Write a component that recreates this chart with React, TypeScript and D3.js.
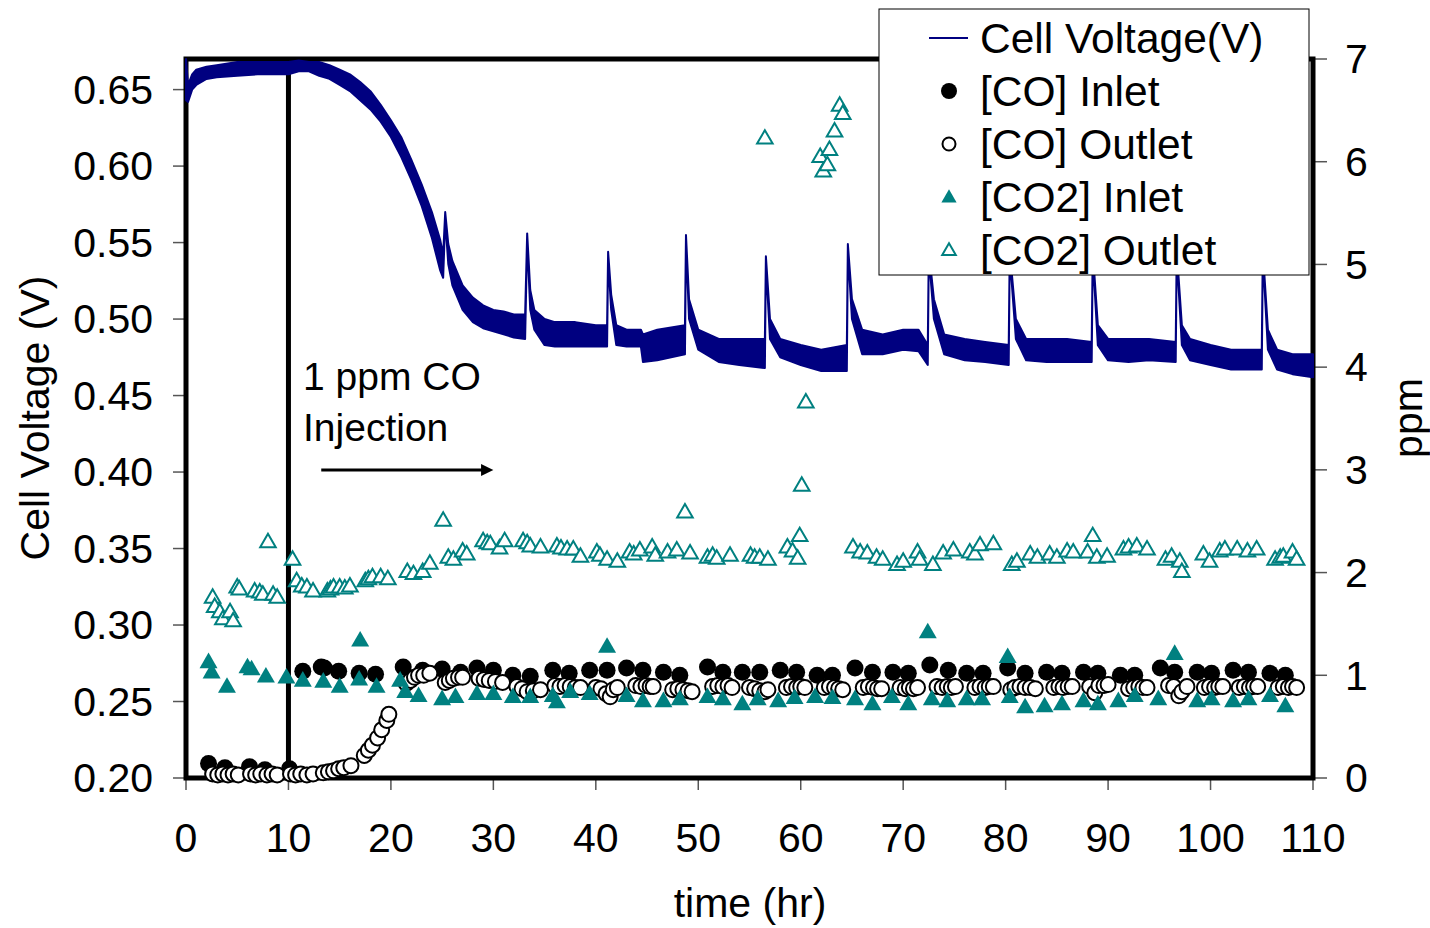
import React from "react";
import * as d3 from "d3";

// cell voltage trace: [time hr, upper edge V, lower edge V]
const voltageTrace = [
  [0, 0.67, 0.643], [0.2, 0.653, 0.642], [0.6, 0.66, 0.65], [1, 0.663, 0.653],
  [2, 0.665, 0.657], [3, 0.666, 0.658], [5, 0.668, 0.659], [7, 0.668, 0.66],
  [9, 0.668, 0.66], [10, 0.668, 0.66], [11, 0.669, 0.662], [12, 0.668, 0.662],
  [13, 0.668, 0.659], [14, 0.666, 0.657], [15, 0.663, 0.653], [16, 0.66, 0.649],
  [17, 0.655, 0.643], [18, 0.649, 0.637], [19, 0.64, 0.629], [20, 0.63, 0.619],
  [21, 0.619, 0.606], [22, 0.604, 0.591], [23, 0.588, 0.574], [24, 0.57, 0.553],
  [24.8, 0.552, 0.532], [25.1, 0.542, 0.527], [25.3, 0.57, 0.565], [25.6, 0.549, 0.536],
  [26, 0.538, 0.522], [27, 0.522, 0.506], [28, 0.514, 0.498], [29, 0.509, 0.494],
  [30, 0.506, 0.492], [31, 0.505, 0.49], [32, 0.503, 0.488], [33.1, 0.503, 0.487],
  [33.3, 0.556, 0.552], [33.6, 0.519, 0.506], [34, 0.506, 0.493], [35, 0.5, 0.483],
  [36, 0.498, 0.482], [38, 0.498, 0.482], [40, 0.496, 0.482], [41.1, 0.496, 0.482],
  [41.2, 0.544, 0.54], [41.5, 0.516, 0.506], [42, 0.496, 0.483], [43, 0.493, 0.482],
  [44.4, 0.493, 0.482], [44.6, 0.49, 0.472], [46, 0.493, 0.473], [48.7, 0.496, 0.477],
  [48.8, 0.555, 0.551], [49.1, 0.513, 0.5], [50, 0.493, 0.48], [52, 0.487, 0.472],
  [54, 0.487, 0.47], [56.5, 0.487, 0.468], [56.6, 0.541, 0.537], [57, 0.5, 0.487],
  [58, 0.487, 0.475], [60, 0.483, 0.47], [62, 0.48, 0.466], [64.5, 0.483, 0.466],
  [64.6, 0.549, 0.545], [65, 0.513, 0.5], [66, 0.493, 0.477], [68, 0.49, 0.477],
  [70, 0.493, 0.48], [71.5, 0.493, 0.479], [72.4, 0.483, 0.47], [72.5, 0.545, 0.542],
  [73, 0.513, 0.5], [74, 0.49, 0.477], [76, 0.487, 0.473], [78, 0.485, 0.472],
  [80.3, 0.483, 0.47], [80.4, 0.545, 0.542], [81, 0.5, 0.487], [82, 0.487, 0.473],
  [84, 0.487, 0.472], [86, 0.487, 0.472], [88.4, 0.485, 0.472], [88.5, 0.545, 0.542],
  [89, 0.496, 0.483], [90, 0.487, 0.473], [92, 0.487, 0.472], [94, 0.487, 0.473],
  [96.6, 0.485, 0.472], [96.7, 0.545, 0.542], [97.2, 0.496, 0.483], [98, 0.487, 0.473],
  [100, 0.483, 0.47], [102, 0.48, 0.467], [105, 0.48, 0.467], [105.1, 0.545, 0.542],
  [105.6, 0.493, 0.48], [106.5, 0.48, 0.467], [108, 0.477, 0.464], [110, 0.477, 0.462]
];

// [time hr, ppm]
const coInlet = [
  [2.2, 0.14], [3.8, 0.1], [6.2, 0.11], [7.7, 0.08], [10.1, 0.09],
  [11.4, 1.04], [13.2, 1.08], [13.5, 1.07], [14.9, 1.04], [16.9, 1.02], [18.5, 1.01],
  [21.2, 1.08], [23.1, 1.05], [25.0, 1.06], [26.8, 1.03], [28.4, 1.07], [30.0, 1.05],
  [31.9, 1.0], [33.6, 0.99], [35.8, 1.05], [37.4, 1.02], [39.4, 1.05], [41.1, 1.05],
  [43.0, 1.07], [44.6, 1.05], [46.6, 1.03], [48.2, 1.0], [50.9, 1.08], [52.4, 1.03],
  [54.3, 1.03], [56.0, 1.03], [58.0, 1.05], [59.6, 1.03], [61.6, 1.0], [63.1, 1.0],
  [65.3, 1.07], [67.0, 1.03], [69.0, 1.03], [70.5, 1.02], [72.6, 1.1], [74.4, 1.05],
  [76.2, 1.02], [77.8, 1.02], [80.2, 1.07], [81.9, 1.02], [84.0, 1.03], [85.5, 1.02],
  [87.6, 1.03], [89.0, 1.02], [91.2, 1.0], [92.6, 1.0], [95.1, 1.07], [96.5, 1.03],
  [98.7, 1.03], [100.1, 1.02], [102.2, 1.05], [103.7, 1.03], [105.8, 1.02], [107.3, 1.0]
];

const coOutlet = [
  [2.6, 0.04], [3.1, 0.03], [3.6, 0.04], [4.1, 0.03], [4.6, 0.04], [5.1, 0.03],
  [6.3, 0.04], [6.8, 0.03], [7.3, 0.04], [7.9, 0.03], [8.4, 0.04], [8.9, 0.03],
  [10.2, 0.04], [10.7, 0.03], [11.2, 0.04], [11.8, 0.03], [12.4, 0.04],
  [13.4, 0.05], [13.9, 0.06], [14.4, 0.07], [14.9, 0.09], [15.4, 0.1], [16.1, 0.12],
  [17.4, 0.22], [17.8, 0.27], [18.2, 0.32], [18.7, 0.39], [19.1, 0.47], [19.6, 0.56], [19.8, 0.62],
  [21.5, 0.92], [21.9, 0.95], [22.3, 0.98], [22.7, 1.0], [23.2, 1.0], [23.8, 1.02],
  [25.3, 0.93], [25.7, 0.95], [26.1, 0.97], [26.6, 0.98], [27.0, 0.98],
  [28.6, 0.97], [29.1, 0.96], [29.6, 0.95], [30.2, 0.94], [30.9, 0.93],
  [32.3, 0.89], [32.8, 0.87], [33.3, 0.84], [33.9, 0.85], [34.6, 0.86],
  [36.0, 0.9], [36.5, 0.89], [37.0, 0.9], [37.5, 0.89], [38.0, 0.88], [38.5, 0.88],
  [40.0, 0.88], [40.5, 0.87], [41.0, 0.82], [41.4, 0.79], [41.7, 0.86], [42.1, 0.88],
  [43.9, 0.9], [44.4, 0.89], [44.9, 0.9], [45.3, 0.89], [45.6, 0.89],
  [47.5, 0.86], [48.0, 0.87], [48.5, 0.86], [49.0, 0.85], [49.4, 0.84],
  [51.4, 0.89], [51.9, 0.9], [52.4, 0.89], [52.9, 0.9], [53.3, 0.88],
  [55.0, 0.88], [55.5, 0.87], [56.0, 0.85], [56.5, 0.84], [56.8, 0.86],
  [58.6, 0.88], [59.1, 0.89], [59.6, 0.88], [60.0, 0.89], [60.4, 0.88],
  [62.3, 0.88], [62.8, 0.89], [63.3, 0.88], [63.7, 0.87], [64.1, 0.86],
  [66.1, 0.88], [66.6, 0.89], [67.1, 0.88], [67.5, 0.87], [67.9, 0.87],
  [69.7, 0.88], [70.2, 0.87], [70.6, 0.88], [71.0, 0.87], [71.4, 0.88],
  [73.3, 0.89], [73.8, 0.88], [74.3, 0.89], [74.7, 0.88], [75.1, 0.89],
  [77.0, 0.88], [77.5, 0.89], [78.0, 0.88], [78.4, 0.89], [78.8, 0.89],
  [80.5, 0.86], [80.9, 0.88], [81.4, 0.89], [81.9, 0.88], [82.4, 0.88], [82.9, 0.87],
  [84.7, 0.88], [85.2, 0.89], [85.6, 0.88], [86.1, 0.89], [86.5, 0.89],
  [88.2, 0.89], [88.7, 0.83], [89.1, 0.9], [89.6, 0.9], [90.0, 0.91],
  [92.0, 0.87], [92.5, 0.88], [93.0, 0.89], [93.4, 0.88], [93.8, 0.88],
  [95.9, 0.9], [96.4, 0.89], [96.9, 0.8], [97.2, 0.84], [97.7, 0.89],
  [99.4, 0.88], [99.9, 0.89], [100.4, 0.88], [100.8, 0.89], [101.2, 0.89],
  [102.8, 0.88], [103.3, 0.89], [103.8, 0.88], [104.2, 0.89], [104.6, 0.89],
  [106.6, 0.88], [107.1, 0.89], [107.6, 0.88], [108.0, 0.89], [108.4, 0.88]
];

const co2Inlet = [
  [2.2, 1.12], [2.5, 1.02], [4.0, 0.88], [6.0, 1.07], [6.4, 1.05], [7.8, 0.98],
  [9.8, 0.97], [11.4, 0.94], [13.4, 0.93], [15.0, 0.88], [16.9, 0.95], [17.0, 1.33],
  [18.6, 0.88], [20.9, 0.94], [21.4, 0.83], [22.7, 0.79], [25.0, 0.76], [26.3, 0.78],
  [28.4, 0.81], [30.0, 0.81], [31.9, 0.78], [33.6, 0.78], [35.8, 0.79], [36.2, 0.73],
  [37.5, 0.83], [39.4, 0.81], [41.1, 1.27], [43.0, 0.79], [44.6, 0.74], [46.6, 0.74],
  [48.2, 0.76], [50.9, 0.78], [52.4, 0.76], [54.3, 0.71], [55.8, 0.76], [57.8, 0.74],
  [59.4, 0.77], [61.4, 0.78], [63.1, 0.77], [65.3, 0.76], [67.0, 0.71], [68.9, 0.78],
  [70.5, 0.71], [72.4, 1.41], [72.8, 0.76], [74.3, 0.74], [76.2, 0.76], [77.7, 0.76],
  [80.2, 1.17], [80.4, 0.78], [81.9, 0.68], [83.8, 0.69], [85.5, 0.71], [87.6, 0.74],
  [89.0, 0.71], [91.0, 0.74], [92.6, 0.79], [94.9, 0.76], [96.5, 1.2], [98.7, 0.74],
  [100.1, 0.76], [102.2, 0.74], [103.7, 0.76], [105.8, 0.79], [107.3, 0.69]
];

const co2Outlet = [
  [2.6, 1.75], [2.8, 1.66], [3.3, 1.61], [3.6, 1.54], [4.3, 1.61], [4.6, 1.52],
  [5.0, 1.85], [5.2, 1.83], [6.7, 1.81], [7.2, 1.8], [7.5, 1.78], [8.0, 2.29],
  [8.5, 1.78], [8.9, 1.75],
  [10.4, 2.12], [10.8, 1.91], [11.3, 1.86], [11.8, 1.85], [12.4, 1.81], [13.8, 1.81],
  [14.1, 1.83], [14.4, 1.85], [15.0, 1.85], [15.5, 1.84], [16.0, 1.86], [17.5, 1.91],
  [17.8, 1.93], [18.2, 1.95], [19.0, 1.95], [19.7, 1.93], [21.6, 2.0], [22.2, 1.98],
  [23.1, 2.0], [23.8, 2.08], [25.1, 2.5], [25.6, 2.14], [26.1, 2.12], [27.0, 2.2],
  [27.4, 2.17], [29.0, 2.3], [29.4, 2.28], [29.7, 2.27], [30.6, 2.23], [31.1, 2.3],
  [32.9, 2.3], [33.3, 2.28], [33.6, 2.25], [34.6, 2.24], [36.2, 2.25], [36.6, 2.23],
  [37.2, 2.22], [37.8, 2.22], [38.5, 2.15], [40.1, 2.19], [40.4, 2.16], [41.1, 2.12],
  [42.1, 2.1], [43.3, 2.19], [43.7, 2.17], [44.3, 2.21], [45.5, 2.24], [45.8, 2.16],
  [47.0, 2.19], [47.9, 2.21], [48.7, 2.58], [49.2, 2.18], [50.9, 2.14], [51.4, 2.16],
  [51.8, 2.13], [53.1, 2.16], [55.1, 2.16], [55.5, 2.14], [56.0, 2.14], [56.5, 6.22],
  [56.8, 2.12], [58.7, 2.24], [59.2, 2.2], [59.7, 2.13], [59.9, 2.35], [60.1, 2.84],
  [60.5, 3.65], [61.9, 6.04], [62.2, 5.9], [62.6, 5.96], [62.8, 6.11], [63.3, 6.29],
  [63.8, 6.54], [64.1, 6.46],
  [65.1, 2.24], [65.8, 2.19], [66.5, 2.18], [67.4, 2.14], [68.0, 2.12], [69.4, 2.07],
  [70.0, 2.1], [71.4, 2.19], [71.6, 2.12], [72.9, 2.07], [73.9, 2.18], [74.9, 2.21],
  [76.5, 2.19], [77.0, 2.17], [77.5, 2.26], [78.8, 2.27], [80.6, 2.07], [81.1, 2.1],
  [82.4, 2.17], [83.1, 2.14], [84.3, 2.17], [85.0, 2.14], [86.0, 2.2], [86.6, 2.19],
  [88.0, 2.19], [88.5, 2.35], [88.9, 2.14], [89.9, 2.15], [91.5, 2.22], [92.0, 2.24],
  [92.8, 2.25], [93.8, 2.22], [95.6, 2.12], [96.2, 2.15], [97.0, 2.1], [97.2, 2.0],
  [99.3, 2.17], [99.9, 2.1], [100.9, 2.2], [101.4, 2.22], [102.6, 2.22], [103.6, 2.2],
  [104.5, 2.22], [106.3, 2.12], [106.8, 2.14], [107.1, 2.15], [108.0, 2.19], [108.4, 2.12]
];

const timeTicks = [0, 10, 20, 30, 40, 50, 60, 70, 80, 90, 100, 110];
const voltTicks = [0.2, 0.25, 0.3, 0.35, 0.4, 0.45, 0.5, 0.55, 0.6, 0.65];
const ppmTicks = [0, 1, 2, 3, 4, 5, 6, 7];
const legendLabels = ["Cell Voltage(V)", "[CO] Inlet", "[CO] Outlet", "[CO2] Inlet", "[CO2] Outlet"];

const NAVY = "#000080";
const TEAL = "#008080";
const FONT = "'Liberation Sans', Arial, sans-serif";

export default function App() {
  const left = 186, right = 1313, top = 59, bottom = 778;

  const x = d3.scaleLinear().domain([0, 110]).range([left, right]);
  const yV = d3.scaleLinear().domain([0.2, 0.67]).range([bottom, top]);
  const yP = d3.scaleLinear().domain([0, 7]).range([bottom, top]);

  const band = d3
    .area()
    .x(d => x(d[0]))
    .y0(d => yV(d[2]))
    .y1(d => yV(d[1]));

  const tri = d3.symbol().type(d3.symbolTriangle);
  const triBig = tri.size(140)();
  const triOpen = tri.size(105)();
  const triLegFill = tri.size(100)();
  const triLegOpen = tri.size(80)();

  const fmt = d3.format(".2f");

  // legend rows
  const lgX = 879, lgY = 9, lgW = 430, lgH = 266;
  const rowY = i => 38 + i * 53;

  return (
    <svg width={1430} height={928} style={{ position: "absolute", left: 0, top: 0, background: "#fff" }} fontFamily={FONT}>
      {/* left ticks */}
      {voltTicks.map(v => (
        <g key={"v" + v}>
          <line x1={left - 13} x2={left} y1={yV(v)} y2={yV(v)} stroke="#555" strokeWidth={1.5} />
          <text x={153} y={yV(v)} dy="0.35em" textAnchor="end" fontSize={41}>{fmt(v)}</text>
        </g>
      ))}
      {/* right ticks */}
      {ppmTicks.map(p => (
        <g key={"p" + p}>
          <line x1={right} x2={right + 14} y1={yP(p)} y2={yP(p)} stroke="#555" strokeWidth={1.5} />
          <text x={1345} y={yP(p)} dy="0.35em" textAnchor="start" fontSize={41}>{p}</text>
        </g>
      ))}
      {/* bottom ticks */}
      {timeTicks.map(t => (
        <g key={"t" + t}>
          <line x1={x(t)} x2={x(t)} y1={bottom} y2={bottom + 12} stroke="#555" strokeWidth={1.5} />
          <text x={x(t)} y={852} textAnchor="middle" fontSize={41}>{t}</text>
        </g>
      ))}

      {/* frame and the injection marker at t = 10 */}
      <rect x={left} y={top} width={right - left} height={bottom - top} fill="none" stroke="#000" strokeWidth={5} />
      <line x1={x(10)} x2={x(10)} y1={top} y2={bottom} stroke="#000" strokeWidth={5} />

      {/* cell voltage */}
      <path d={band(voltageTrace)} fill={NAVY} stroke={NAVY} strokeWidth={2} strokeLinejoin="round" />

      {/* ppm series */}
      {coInlet.map((d, i) => (
        <circle key={"ci" + i} cx={x(d[0])} cy={yP(d[1])} r={8.5} fill="#000" />
      ))}
      {coOutlet.map((d, i) => (
        <circle key={"co" + i} cx={x(d[0])} cy={yP(d[1])} r={7.5} fill="#fff" stroke="#000" strokeWidth={2} />
      ))}
      {co2Inlet.map((d, i) => (
        <path key={"c2i" + i} d={triBig} transform={`translate(${x(d[0])},${yP(d[1])})`} fill={TEAL} />
      ))}
      {co2Outlet.map((d, i) => (
        <path key={"c2o" + i} d={triOpen} transform={`translate(${x(d[0])},${yP(d[1])})`} fill="#fff" stroke={TEAL} strokeWidth={2} />
      ))}

      {/* annotation */}
      <text x={303} y={390} fontSize={39}>1 ppm CO</text>
      <text x={303} y={441} fontSize={39}>Injection</text>
      <line x1={x(13.2)} x2={x(29.0)} y1={470} y2={470} stroke="#000" strokeWidth={3} />
      <path d={`M${x(30.0)},470 L${x(28.8)},464 L${x(28.8)},476 Z`} fill="#000" />

      {/* axis titles */}
      <text x={750} y={917} textAnchor="middle" fontSize={41}>time (hr)</text>
      <text transform="translate(35,418) rotate(-90)" dy="0.35em" textAnchor="middle" fontSize={41}>Cell Voltage (V)</text>
      <text transform="translate(1408,418) rotate(-90)" dy="0.35em" textAnchor="middle" fontSize={41}>ppm</text>

      {/* legend */}
      <rect x={lgX} y={lgY} width={lgW} height={lgH} fill="#fff" stroke="#000" strokeWidth={1} />
      <line x1={929} x2={968} y1={rowY(0)} y2={rowY(0)} stroke={NAVY} strokeWidth={2} />
      <circle cx={949} cy={rowY(1)} r={8} fill="#000" />
      <circle cx={949} cy={rowY(2)} r={6.5} fill="#fff" stroke="#000" strokeWidth={2} />
      <path d={triLegFill} transform={`translate(949,${rowY(3) + 1})`} fill={TEAL} />
      <path d={triLegOpen} transform={`translate(949,${rowY(4) + 1})`} fill="#fff" stroke={TEAL} strokeWidth={2} />
      {legendLabels.map((s, i) => (
        <text key={s} x={980} y={rowY(i)} dy="0.36em" fontSize={42.5}>{s}</text>
      ))}
    </svg>
  );
}
